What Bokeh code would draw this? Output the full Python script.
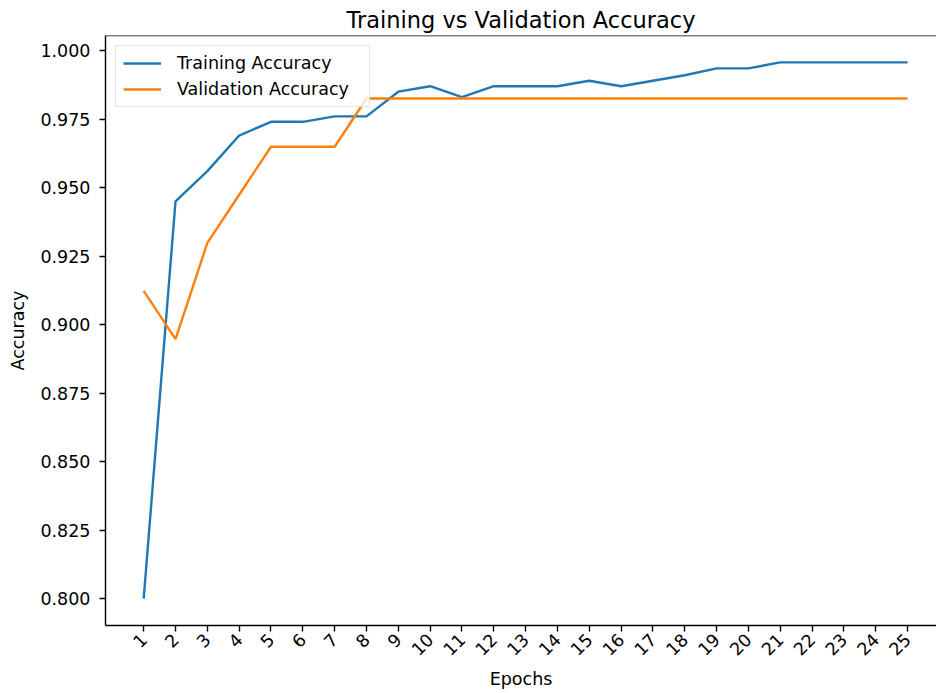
import math
from bokeh.plotting import figure
from bokeh.models import FixedTicker, NumeralTickFormatter, Range1d, Span, Legend, LegendItem
from bokeh.embed import file_html
from bokeh.resources import INLINE

epochs = list(range(1, 26))
train_acc = [0.800, 0.945, 0.956, 0.969, 0.974, 0.974, 0.976, 0.976, 0.985, 0.987,
             0.983, 0.987, 0.987, 0.987, 0.989, 0.987, 0.989, 0.991, 0.9935, 0.9935,
             0.9957, 0.9957, 0.9957, 0.9957, 0.9957]
val_acc = [0.9123, 0.8947, 0.9298, 0.9474, 0.9649, 0.9649, 0.9649, 0.9825, 0.9825, 0.9825,
           0.9825, 0.9825, 0.9825, 0.9825, 0.9825, 0.9825, 0.9825, 0.9825, 0.9825, 0.9825,
           0.9825, 0.9825, 0.9825, 0.9825, 0.9825]
y_ticks = [0.800, 0.825, 0.850, 0.875, 0.900, 0.925, 0.950, 0.975, 1.000]

FONT = "DejaVu Sans"
FS = "17.5px"

p = figure(width=936, height=693, output_backend="svg", toolbar_location=None,
           x_range=Range1d(-0.2, 25.91), y_range=Range1d(0.7902, 1.0055),
           min_border_left=105, min_border_top=35, min_border_right=0, min_border_bottom=68,
           title="Training vs Validation Accuracy")
p.title.text_font = FONT
p.title.text_font_size = "22.5px"
p.title.text_font_style = "normal"
p.title.text_color = "black"
p.title.align = "center"
p.title.standoff = 5
p.outline_line_color = None
p.grid.visible = False
p.background_fill_color = "white"
p.border_fill_color = "white"

r1 = p.line(epochs, train_acc, line_color="#1f77b4", line_width=2.4)
r2 = p.line(epochs, val_acc, line_color="#ff7f0e", line_width=2.4)

top = Span(location=1.0055, dimension="width", line_color="black", line_width=1.4)
p.add_layout(top)

for ax in (p.xaxis[0], p.yaxis[0]):
    ax.axis_line_color = "black"
    ax.axis_line_width = 1.4
    ax.major_tick_line_color = "black"
    ax.major_tick_line_width = 1.4
    ax.major_tick_in = 0
    ax.major_tick_out = 6
    ax.minor_tick_line_color = None
    ax.major_label_text_font = FONT
    ax.major_label_text_font_size = FS
    ax.major_label_text_color = "black"
    ax.axis_label_text_font = FONT
    ax.axis_label_text_font_size = FS
    ax.axis_label_text_font_style = "normal"
    ax.axis_label_text_color = "black"

p.xaxis[0].ticker = FixedTicker(ticks=epochs)
p.xaxis[0].major_label_orientation = math.pi / 4
p.xaxis[0].major_label_standoff = 5
p.xaxis[0].axis_label = "Epochs"
p.xaxis[0].axis_label_standoff = 5

p.yaxis[0].ticker = FixedTicker(ticks=y_ticks)
p.yaxis[0].formatter = NumeralTickFormatter(format="0.000")
p.yaxis[0].major_label_standoff = 9
p.yaxis[0].axis_label = "Accuracy"
p.yaxis[0].axis_label_standoff = 9

legend = Legend(items=[LegendItem(label="Training Accuracy", renderers=[r1]),
                       LegendItem(label="Validation Accuracy", renderers=[r2])],
                location="top_left", margin=10, padding=7, spacing=6,
                glyph_width=38, glyph_height=20, label_standoff=16, label_width=185,
                label_text_font=FONT, label_text_font_size=FS, label_text_color="black",
                border_line_color="#cccccc", border_line_width=1.2,
                background_fill_color="white", background_fill_alpha=0.8)
p.add_layout(legend)

open("out.html", "w").write(file_html(p, INLINE))
